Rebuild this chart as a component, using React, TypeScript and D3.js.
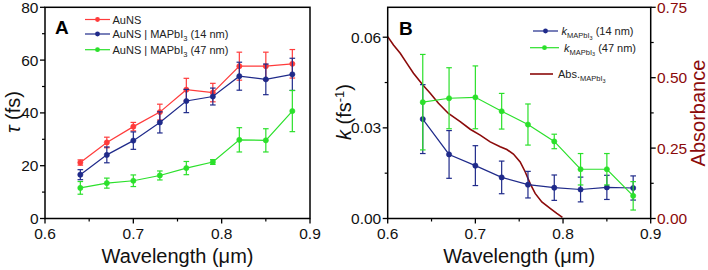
import React from "react";
import * as d3 from "d3";

// ---------- data ----------
const wavelengths = [0.64, 0.67, 0.7, 0.73, 0.76, 0.79, 0.82, 0.85, 0.88];

const tauAuNS = [21.2, 28.8, 34.8, 40.3, 48.8, 47.7, 57.7, 57.7, 58.6];
const tauAuNSErr = [1.0, 2.0, 1.6, 3.0, 4.3, 3.5, 5.3, 5.3, 5.4];
const tau14 = [16.6, 24.1, 29.5, 36.4, 44.5, 46.2, 53.9, 52.7, 54.6];
const tau14Err = [1.9, 3.0, 3.3, 4.0, 4.4, 3.2, 5.3, 5.8, 6.1];
const tau47 = [11.6, 13.4, 14.3, 16.3, 19.1, 21.4, 29.8, 29.6, 40.7];
const tau47Err = [2.4, 1.9, 2.2, 1.7, 2.5, 0.9, 4.6, 4.4, 7.8];

const k14 = [0.0329, 0.0212, 0.0175, 0.0136, 0.0112, 0.0102, 0.0096, 0.0103, 0.0101];
const k14Err = [0.0114, 0.0079, 0.0066, 0.0054, 0.0044, 0.0042, 0.0041, 0.004, 0.004];
const k47 = [0.0385, 0.0398, 0.0401, 0.0355, 0.0311, 0.0255, 0.0163, 0.0163, 0.0075];
const k47Err = [0.0158, 0.0101, 0.0104, 0.0059, 0.0068, 0.0024, 0.0052, 0.0052, 0.0047];

const absWl = [0.6, 0.6066, 0.6143, 0.6219, 0.6294, 0.6401, 0.6485, 0.6579, 0.6693, 0.6827, 0.6941, 0.7055, 0.7169, 0.7283, 0.7359, 0.7434, 0.7511, 0.7568, 0.7625, 0.7682, 0.7758, 0.7853, 0.7929, 0.7993];
const absVal = [0.646, 0.616, 0.587, 0.551, 0.516, 0.474, 0.445, 0.409, 0.373, 0.344, 0.317, 0.296, 0.272, 0.255, 0.245, 0.229, 0.201, 0.166, 0.124, 0.089, 0.059, 0.036, 0.018, 0.004];

const xMajorTicks = [0.6, 0.7, 0.8, 0.9];
const xMinorTicks = [0.65, 0.75, 0.85];
const tauMajorTicks = [0, 20, 40, 60, 80];
const tauMinorTicks = [10, 30, 50, 70];
const kMajorTicks = [0, 0.03, 0.06];
const kMinorTicks = [0.015, 0.045];
const absMajorTicks = [0, 0.25, 0.5, 0.75];
const absMinorTicks = [0.125, 0.375, 0.625];

const RED = "#ff3b3b";
const BLUE = "#1f2a8a";
const GREEN = "#2be02b";
const DARKRED = "#8b0a0a";
const FONT = "'Liberation Sans', Arial, sans-serif";

// ---------- scales ----------
const xA = d3.scaleLinear().domain([0.6, 0.9]).range([45, 310]);
const yA = d3.scaleLinear().domain([0, 80]).range([218.5, 7.3]);
const xB = d3.scaleLinear().domain([0.6, 0.9]).range([387.7, 650.7]);
const yB = d3.scaleLinear().domain([0, 0.07]).range([218.5, 7]);
const yR = d3.scaleLinear().domain([0, 0.75]).range([218.5, 7.3]);

function Series({ xs, ys, errs, xScale, yScale, color, r = 2.6 }: any) {
  const line = d3.line<number>().x((_, i) => xScale(xs[i])).y((d) => yScale(d));
  return (
    <g>
      <path d={line(ys) || ""} fill="none" stroke={color} strokeWidth={1.2} />
      {ys.map((v: number, i: number) => {
        const x = xScale(xs[i]);
        const y1 = yScale(v - errs[i]);
        const y2 = yScale(v + errs[i]);
        return (
          <g key={i}>
            <line x1={x} x2={x} y1={y1} y2={y2} stroke={color} strokeWidth={1.2} />
            <line x1={x - 2.8} x2={x + 2.8} y1={y1} y2={y1} stroke={color} strokeWidth={1.2} />
            <line x1={x - 2.8} x2={x + 2.8} y1={y2} y2={y2} stroke={color} strokeWidth={1.2} />
            <circle cx={x} cy={yScale(v)} r={r} fill={color} stroke={color} strokeWidth={0.6} />
          </g>
        );
      })}
    </g>
  );
}

function XAxis({ scale, y }: any) {
  const [r0, r1] = scale.range();
  return (
    <g>
      {xMajorTicks.map((t) => (
        <g key={t}>
          <line x1={scale(t)} x2={scale(t)} y1={y} y2={y + 5} stroke="#000" strokeWidth={1.3} />
          <text x={scale(t)} y={y + 20} textAnchor="middle" fontSize={15.5} fontFamily={FONT} fill="#111">
            {t.toFixed(1)}
          </text>
        </g>
      ))}
      {xMinorTicks.map((t) => (
        <line key={t} x1={scale(t)} x2={scale(t)} y1={y} y2={y + 3} stroke="#000" strokeWidth={1.2} />
      ))}
      <text x={(r0 + r1) / 2} y={y + 44} textAnchor="middle" fontSize={20} fontFamily={FONT} fill="#111">
        Wavelength (μm)
      </text>
    </g>
  );
}

function YAxisLeft({ scale, x, major, minor, fmt }: any) {
  return (
    <g>
      {major.map((t: number) => (
        <g key={t}>
          <line x1={x - 5} x2={x} y1={scale(t)} y2={scale(t)} stroke="#000" strokeWidth={1.3} />
          <text x={x - 6.5} y={scale(t) + 5.5} textAnchor="end" fontSize={15.5} fontFamily={FONT} fill="#111">
            {fmt(t)}
          </text>
        </g>
      ))}
      {minor.map((t: number) => (
        <line key={t} x1={x - 3} x2={x} y1={scale(t)} y2={scale(t)} stroke="#000" strokeWidth={1.2} />
      ))}
    </g>
  );
}

export default function App() {
  const absLine = d3
    .line<number>()
    .x((_, i) => xB(absWl[i]))
    .y((d) => yR(d))
    .curve(d3.curveLinear);

  return (
    <div style={{ position: "absolute", left: 0, top: 0 }}>
      <svg width={708} height={270} style={{ display: "block", background: "#fff" }}>
        {/* ---------- Panel A ---------- */}
        <Series xs={wavelengths} ys={tauAuNS} errs={tauAuNSErr} xScale={xA} yScale={yA} color={RED} />
        <Series xs={wavelengths} ys={tau14} errs={tau14Err} xScale={xA} yScale={yA} color={BLUE} />
        <Series xs={wavelengths} ys={tau47} errs={tau47Err} xScale={xA} yScale={yA} color={GREEN} />
        <rect x={45} y={7.3} width={265} height={211.2} fill="none" stroke="#000" strokeWidth={1.5} />
        <XAxis scale={xA} y={218.5} />
        <YAxisLeft scale={yA} x={45} major={tauMajorTicks} minor={tauMinorTicks} fmt={(t: number) => String(t)} />
        <text transform="translate(20,112) rotate(-90)" textAnchor="middle" fontSize={20} fontFamily={FONT} fill="#111">
          <tspan fontStyle="italic">τ</tspan> (fs)
        </text>
        <text x={55} y={33.5} fontSize={19} fontWeight="bold" fontFamily={FONT} fill="#000">A</text>

        {/* legend A */}
        {[
          { label: "AuNS", sub: false, color: RED, y: 19.5 },
          { label: "AuNS | MAPbI", sub: true, color: BLUE, y: 34 },
          { label: "AuNS | MAPbI", sub: true, color: GREEN, y: 49.7 },
        ].map((l, i) => (
          <g key={i}>
            <line x1={85} x2={110} y1={l.y} y2={l.y} stroke={l.color} strokeWidth={1.2} />
            <circle cx={97.5} cy={l.y} r={2.4} fill={l.color} />
            <text x={112.5} y={l.y + 4} fontSize={11} fontFamily={FONT} fill="#222">
              {l.label}
              {l.sub && (
                <>
                  <tspan fontSize={7.5} dy={3}>3</tspan>
                  <tspan dy={-3}>{i === 1 ? " (14 nm)" : " (47 nm)"}</tspan>
                </>
              )}
            </text>
          </g>
        ))}

        {/* ---------- Panel B ---------- */}
        <path d={absLine(absVal) || ""} fill="none" stroke={DARKRED} strokeWidth={1.6} />
        <Series xs={wavelengths} ys={k14} errs={k14Err} xScale={xB} yScale={yB} color={BLUE} />
        <Series xs={wavelengths} ys={k47} errs={k47Err} xScale={xB} yScale={yB} color={GREEN} />
        <rect x={387.7} y={7.3} width={263} height={211.2} fill="none" stroke="#000" strokeWidth={1.5} />
        <XAxis scale={xB} y={218.5} />
        <YAxisLeft scale={yB} x={387.7} major={kMajorTicks} minor={kMinorTicks} fmt={(t: number) => t.toFixed(2)} />
        {/* right axis */}
        <g>
          {absMajorTicks.map((t) => (
            <g key={t}>
              <line x1={650.7} x2={655.7} y1={yR(t)} y2={yR(t)} stroke="#000" strokeWidth={1.3} />
              <text x={657} y={yR(t) + 5.5} fontSize={15.5} fontFamily={FONT} fill={DARKRED}>
                {t.toFixed(2)}
              </text>
            </g>
          ))}
          {absMinorTicks.map((t) => (
            <line key={t} x1={650.7} x2={653.7} y1={yR(t)} y2={yR(t)} stroke="#000" strokeWidth={1.2} />
          ))}
        </g>
        <text transform="translate(705,113) rotate(-90)" textAnchor="middle" fontSize={20} fontFamily={FONT} fill={DARKRED}>
          Absorbance
        </text>
        <text transform="translate(351,112) rotate(-90)" textAnchor="middle" fontSize={20} fontFamily={FONT} fill="#111">
          <tspan fontStyle="italic">k</tspan>
          <tspan> (fs</tspan>
          <tspan fontSize={13} dy={-7}>-1</tspan>
          <tspan dy={7}>)</tspan>
        </text>
        <text x={399} y={35} fontSize={19} fontWeight="bold" fontFamily={FONT} fill="#000">B</text>

        {/* legend B */}
        <g>
          <line x1={533} x2={558} y1={31} y2={31} stroke={BLUE} strokeWidth={1.2} />
          <circle cx={545.5} cy={31} r={2.4} fill={BLUE} />
          <text x={561.5} y={35} fontSize={11} fontFamily={FONT} fill="#222">
            <tspan fontStyle="italic">k</tspan>
            <tspan fontSize={7.5} dy={3}>MAPbI</tspan>
            <tspan fontSize={5.5} dy={1.5}>3</tspan>
            <tspan dy={-4.5}> (14 nm)</tspan>
          </text>
          <line x1={530} x2={559} y1={47.7} y2={47.7} stroke={GREEN} strokeWidth={1.2} />
          <circle cx={544.5} cy={47.7} r={2.4} fill={GREEN} />
          <text x={564} y={51.7} fontSize={11} fontFamily={FONT} fill="#222">
            <tspan fontStyle="italic">k</tspan>
            <tspan fontSize={7.5} dy={3}>MAPbI</tspan>
            <tspan fontSize={5.5} dy={1.5}>3</tspan>
            <tspan dy={-4.5}> (47 nm)</tspan>
          </text>
          <line x1={530} x2={553} y1={74} y2={74} stroke={DARKRED} strokeWidth={1.6} />
          <text x={558} y={78} fontSize={11} fontFamily={FONT} fill="#222">
            Abs.
            <tspan fontSize={7.5} dy={3}>MAPbI</tspan>
            <tspan fontSize={5.5} dy={1.5}>3</tspan>
          </text>
        </g>
      </svg>
    </div>
  );
}
